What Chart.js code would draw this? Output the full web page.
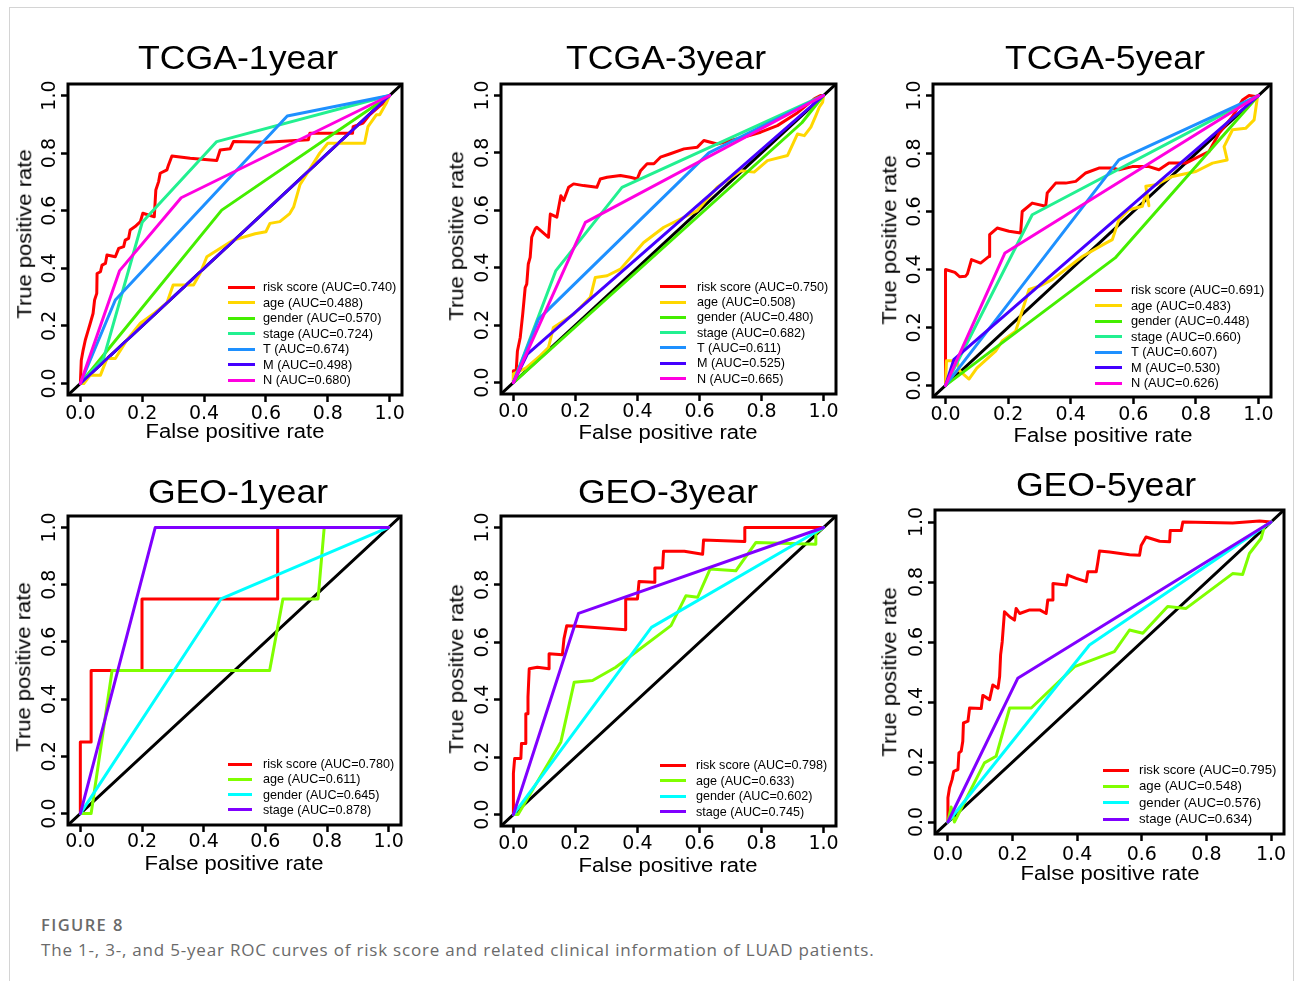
<!DOCTYPE html>
<html>
<head>
<meta charset="utf-8">
<title>ROC curves</title>
<script src="https://cdn.jsdelivr.net/npm/chart.js@4.4.0/dist/chart.umd.min.js"></script>
<style>
html, body { margin: 0; padding: 0; background: #fff; }
#page { position: relative; width: 1296px; height: 981px; overflow: hidden;
        font-family: "Liberation Sans", Arial, Helvetica, sans-serif; }
.frame { position: absolute; left: 9px; top: 7px; width: 1283px; height: 1000px;
         border: 1px solid #d4d4d4; border-bottom: none; }
canvas { position: absolute; }
.lbl { position: absolute; white-space: nowrap; line-height: 1; color: #000; }
.legline { position: absolute; height: 3px; }
.cap1 { position: absolute; left: 41px; top: 925px; transform: translateY(-50%);
        font-family: "Open Sans", sans-serif; font-size: 16.5px; font-weight: 600;
        letter-spacing: 1.4px; color: #6a6a6a; line-height: 1; }
.cap2 { position: absolute; left: 41px; top: 949px; transform: translateY(-50%);
        font-family: "Open Sans", sans-serif; font-size: 17px; color: #6a6a6a;
        letter-spacing: 0.8px; line-height: 1; white-space: nowrap; }
</style>
</head>
<body>
<div id="page">
  <div class="frame"></div>
  <div class="cap1">FIGURE 8</div>
  <div class="cap2">The 1-, 3-, and 5-year ROC curves of risk score and related clinical information of LUAD patients.</div>
</div>
<script>
// ---- data (false positive rate, true positive rate) ----
const tickValues = [0, 0.2, 0.4, 0.6, 0.8, 1.0];
const axisLimits = [-0.04, 1.04];

const tcgaNames = ["risk score", "age", "gender", "stage", "T", "M", "N"];
const geoNames = ["risk score", "age", "gender", "stage"];
const tcgaColors = ["#FF0000", "#FFD700", "#44EE00", "#22F090", "#1E90FF", "#4400FF", "#FF00E0"];
const geoColors = ["#FF0000", "#80FF00", "#00FFFF", "#8000FF"];

const tcga1Auc = ["0.740", "0.488", "0.570", "0.724", "0.674", "0.498", "0.680"];
const tcga3Auc = ["0.750", "0.508", "0.480", "0.682", "0.611", "0.525", "0.665"];
const tcga5Auc = ["0.691", "0.483", "0.448", "0.660", "0.607", "0.530", "0.626"];
const geo1Auc = ["0.780", "0.611", "0.645", "0.878"];
const geo3Auc = ["0.798", "0.633", "0.602", "0.745"];
const geo5Auc = ["0.795", "0.548", "0.576", "0.634"];

// TCGA 1 year
const tcga1Risk = [[0,0],[0.003,0.081],[0.009,0.116],[0.016,0.151],[0.024,0.18],[0.032,0.209],[0.041,0.243],[0.046,0.29],[0.053,0.313],[0.054,0.382],[0.065,0.388],[0.07,0.411],[0.081,0.417],[0.086,0.446],[0.113,0.44],[0.124,0.469],[0.14,0.475],[0.145,0.498],[0.156,0.504],[0.161,0.533],[0.177,0.545],[0.194,0.562],[0.202,0.591],[0.22,0.585],[0.239,0.579],[0.244,0.672],[0.253,0.701],[0.258,0.73],[0.28,0.742],[0.285,0.759],[0.296,0.79],[0.355,0.782],[0.441,0.774],[0.452,0.811],[0.484,0.815],[0.495,0.84],[0.602,0.838],[0.737,0.846],[0.742,0.869],[0.88,0.869],[0.882,0.892],[0.914,0.904],[0.935,0.933],[0.978,0.973],[1,1]];
const tcga1Age = [[0,0],[0.011,0],[0.032,0.029],[0.065,0.029],[0.086,0.087],[0.113,0.087],[0.15,0.15],[0.194,0.209],[0.24,0.245],[0.28,0.28],[0.3,0.342],[0.366,0.342],[0.387,0.382],[0.409,0.44],[0.495,0.498],[0.565,0.52],[0.6,0.527],[0.613,0.556],[0.645,0.562],[0.677,0.59],[0.69,0.614],[0.71,0.69],[0.774,0.8],[0.8,0.834],[0.919,0.834],[0.93,0.892],[0.957,0.933],[0.968,0.933],[0.989,0.973],[1,1]];
const tcga1Gender = [[0,0],[0.457,0.602],[1,1]];
const tcga1Stage = [[0,0],[0.075,0.087],[0.2,0.56],[0.441,0.84],[1,1]];
const tcga1T = [[0,0],[0.113,0.29],[0.669,0.929],[1,1]];
const tcga1M = [[0,0],[1,1]];
const tcga1N = [[0,0],[0.127,0.392],[0.326,0.645],[1,1]];

// TCGA 3 year
const tcga3Risk = [[0,0],[0,0.041],[0.009,0.041],[0.013,0.11],[0.022,0.157],[0.03,0.238],[0.038,0.331],[0.043,0.343],[0.048,0.413],[0.054,0.436],[0.059,0.506],[0.07,0.535],[0.075,0.541],[0.113,0.506],[0.119,0.587],[0.14,0.576],[0.153,0.651],[0.162,0.634],[0.178,0.68],[0.194,0.692],[0.226,0.686],[0.269,0.68],[0.28,0.709],[0.302,0.715],[0.345,0.721],[0.377,0.715],[0.399,0.709],[0.41,0.738],[0.431,0.762],[0.453,0.762],[0.474,0.785],[0.506,0.797],[0.55,0.814],[0.593,0.82],[0.614,0.843],[0.657,0.831],[0.7,0.843],[0.744,0.855],[0.797,0.872],[0.851,0.895],[0.916,0.94],[0.97,0.988],[0.99,1],[1,1]];
const tcga3Age = [[0,0],[0,0.03],[0.04,0.05],[0.086,0.093],[0.113,0.122],[0.129,0.192],[0.194,0.238],[0.248,0.297],[0.264,0.366],[0.302,0.372],[0.345,0.395],[0.42,0.488],[0.485,0.541],[0.593,0.599],[0.657,0.68],[0.733,0.738],[0.776,0.733],[0.819,0.773],[0.884,0.791],[0.916,0.866],[0.938,0.86],[0.959,0.89],[0.975,0.93],[0.986,0.959],[0.997,0.977],[1,1]];
const tcga3Gender = [[0,0],[0.93,0.905],[1,1]];
const tcga3Stage = [[0,0],[0.137,0.39],[0.35,0.68],[1,1]];
const tcga3T = [[0,0],[0.081,0.221],[0.63,0.8],[1,1]];
const tcga3M = [[0,0],[0.045,0.099],[1,1]];
const tcga3N = [[0,0],[0.232,0.558],[1,1]];

// TCGA 5 year
const tcga5Risk = [[0,0],[0,0.4],[0.03,0.39],[0.045,0.375],[0.064,0.377],[0.07,0.385],[0.083,0.434],[0.112,0.422],[0.139,0.445],[0.141,0.52],[0.165,0.543],[0.203,0.532],[0.24,0.526],[0.245,0.6],[0.277,0.629],[0.32,0.618],[0.325,0.664],[0.352,0.698],[0.384,0.698],[0.416,0.704],[0.448,0.733],[0.49,0.75],[0.533,0.75],[0.554,0.744],[0.597,0.755],[0.65,0.755],[0.682,0.744],[0.714,0.767],[0.768,0.767],[0.821,0.796],[0.842,0.807],[0.874,0.87],[0.917,0.928],[0.949,0.985],[0.97,1],[0.99,0.997],[1,1]];
const tcga5Age = [[0,0],[0.003,0.085],[0.037,0.085],[0.045,0.05],[0.075,0.022],[0.1,0.06],[0.16,0.118],[0.181,0.153],[0.224,0.187],[0.267,0.331],[0.299,0.342],[0.341,0.365],[0.437,0.445],[0.512,0.491],[0.533,0.503],[0.554,0.572],[0.586,0.606],[0.629,0.618],[0.64,0.664],[0.65,0.62],[0.64,0.687],[0.672,0.692],[0.725,0.721],[0.8,0.738],[0.853,0.767],[0.9,0.778],[0.89,0.824],[0.917,0.882],[0.959,0.887],[0.986,0.916],[0.997,0.997],[1,1]];
const tcga5Gender = [[0,0],[0.542,0.44],[1,1]];
const tcga5Stage = [[0,0],[0.277,0.589],[1,1]];
const tcga5T = [[0,0],[0.554,0.778],[1,1]];
const tcga5M = [[0,0],[0.027,0.09],[1,1]];
const tcga5N = [[0,0],[0.19,0.457],[1,1]];

// GEO 1 year
const geo1Risk = [[0,0],[0,0.25],[0.035,0.25],[0.035,0.5],[0.2,0.5],[0.2,0.75],[0.64,0.75],[0.64,1],[1,1]];
const geo1Age = [[0,0],[0.035,0],[0.103,0.5],[0.614,0.5],[0.657,0.75],[0.771,0.75],[0.791,1],[1,1]];
const geo1Gender = [[0,0],[0.456,0.75],[1,1]];
const geo1Stage = [[0,0],[0.243,1],[1,1]];

// GEO 3 year
const geo3Risk = [[0,0],[0,0.143],[0.004,0.195],[0.024,0.195],[0.026,0.247],[0.04,0.247],[0.04,0.351],[0.045,0.351],[0.047,0.409],[0.051,0.508],[0.077,0.513],[0.115,0.508],[0.115,0.56],[0.158,0.557],[0.163,0.612],[0.172,0.658],[0.206,0.656],[0.362,0.644],[0.362,0.751],[0.4,0.751],[0.405,0.812],[0.454,0.809],[0.456,0.859],[0.481,0.859],[0.484,0.917],[0.551,0.917],[0.61,0.907],[0.613,0.956],[0.744,0.951],[0.746,1],[0.97,1],[1,1]];
const geo3Age = [[0,0],[0.015,0],[0.153,0.253],[0.196,0.461],[0.255,0.467],[0.33,0.513],[0.508,0.658],[0.556,0.762],[0.594,0.757],[0.634,0.855],[0.717,0.849],[0.782,0.948],[0.975,0.942],[0.975,0.98],[1,1]];
const geo3Gender = [[0,0],[0.445,0.652],[1,1]];
const geo3Stage = [[0,0],[0.21,0.701],[1,1]];

// GEO 5 year
const geo5Risk = [[0,0],[0,0.081],[0.005,0.114],[0.013,0.142],[0.018,0.169],[0.031,0.175],[0.034,0.23],[0.041,0.236],[0.046,0.269],[0.048,0.33],[0.062,0.336],[0.067,0.38],[0.103,0.378],[0.108,0.422],[0.129,0.408],[0.139,0.457],[0.155,0.446],[0.16,0.485],[0.163,0.557],[0.168,0.601],[0.175,0.701],[0.191,0.684],[0.206,0.673],[0.211,0.712],[0.222,0.695],[0.253,0.707],[0.284,0.707],[0.304,0.695],[0.309,0.74],[0.323,0.74],[0.325,0.795],[0.366,0.79],[0.371,0.823],[0.397,0.812],[0.428,0.801],[0.433,0.834],[0.459,0.834],[0.464,0.867],[0.469,0.903],[0.5,0.9],[0.562,0.891],[0.593,0.889],[0.598,0.922],[0.613,0.95],[0.655,0.936],[0.686,0.934],[0.688,0.972],[0.722,0.972],[0.727,1],[0.881,0.997],[0.964,1.003],[1,1]];
const geo5Age = [[0,0],[0.01,0.05],[0.02,0],[0.113,0.197],[0.149,0.219],[0.191,0.38],[0.258,0.38],[0.392,0.518],[0.515,0.568],[0.562,0.64],[0.603,0.629],[0.68,0.718],[0.737,0.712],[0.881,0.828],[0.912,0.825],[0.933,0.895],[0.969,0.945],[0.979,0.984],[1,1]];
const geo5Gender = [[0,0],[0.438,0.59],[1,1]];
const geo5Stage = [[0,0],[0.216,0.479],[1,1]];

// ---- layout of the six panels (pixel positions of fpr/tpr 0 and 1) ----
const panels = [
  { title: "TCGA-1year", names: tcgaNames, auc: tcga1Auc, colors: tcgaColors,
    curves: [tcga1Risk, tcga1Age, tcga1Gender, tcga1Stage, tcga1T, tcga1M, tcga1N],
    x0: 80.5, x1: 390, y0: 383.5, y1: 96, titleX: 238, titleY: 56.5, xTitleY: 432, yTitleX: 25, yTitleY: 234, tickGap: 19,
    leg: { x1: 228, x2: 255, tx: 263, y: 287, dy: 15.5, fs: 12.8 } },
  { title: "TCGA-3year", names: tcgaNames, auc: tcga3Auc, colors: tcgaColors,
    curves: [tcga3Risk, tcga3Age, tcga3Gender, tcga3Stage, tcga3T, tcga3M, tcga3N],
    x0: 513, x1: 823, y0: 382, y1: 95, titleX: 665.5, titleY: 56.5, xTitleY: 433.3, yTitleX: 457, yTitleY: 236, tickGap: 18,
    leg: { x1: 660, x2: 686, tx: 697, y: 286.7, dy: 15.3, fs: 12.6 } },
  { title: "TCGA-5year", names: tcgaNames, auc: tcga5Auc, colors: tcgaColors,
    curves: [tcga5Risk, tcga5Age, tcga5Gender, tcga5Stage, tcga5T, tcga5M, tcga5N],
    x0: 946, x1: 1259, y0: 386, y1: 96, titleX: 1105, titleY: 57, xTitleY: 435.5, yTitleX: 890, yTitleY: 240, tickGap: 18.5,
    leg: { x1: 1095, x2: 1122, tx: 1131, y: 290, dy: 15.55, fs: 12.8 } },
  { title: "GEO-1year", names: geoNames, auc: geo1Auc, colors: geoColors,
    curves: [geo1Risk, geo1Age, geo1Gender, geo1Stage],
    x0: 80, x1: 388, y0: 813, y1: 527, titleX: 237.5, titleY: 491, xTitleY: 864, yTitleX: 24, yTitleY: 667, tickGap: 17,
    leg: { x1: 228, x2: 252, tx: 263, y: 764, dy: 15.3, fs: 12.6 } },
  { title: "GEO-3year", names: geoNames, auc: geo3Auc, colors: geoColors,
    curves: [geo3Risk, geo3Age, geo3Gender, geo3Stage],
    x0: 513, x1: 823, y0: 814, y1: 527, titleX: 667.5, titleY: 491, xTitleY: 865.5, yTitleX: 457, yTitleY: 669, tickGap: 18,
    leg: { x1: 660, x2: 686, tx: 696, y: 765, dy: 15.55, fs: 12.6 } },
  { title: "GEO-5year", names: geoNames, auc: geo5Auc, colors: geoColors,
    curves: [geo5Risk, geo5Age, geo5Gender, geo5Stage],
    x0: 948, x1: 1271, y0: 822, y1: 522, titleX: 1106, titleY: 483.5, xTitleY: 874, yTitleX: 890, yTitleY: 671.5, tickGap: 21.5,
    leg: { x1: 1103, x2: 1129, tx: 1139, y: 770, dy: 16.4, fs: 13.2 } }
];

const tickFont = { family: "DejaVu Sans", size: 19, lineHeight: 1.2 };
const page = document.getElementById("page");

// R-style box around the plot region
const boxFrame = {
  id: "boxFrame",
  afterDatasetsDraw(chart) {
    const { ctx, chartArea: a } = chart;
    ctx.save();
    ctx.lineWidth = 3;
    ctx.strokeStyle = "#000";
    ctx.strokeRect(a.left, a.top, a.right - a.left, a.bottom - a.top);
    ctx.restore();
  }
};

function addText(text, x, y, css, transform) {
  const el = document.createElement("div");
  el.className = "lbl";
  el.textContent = text;
  el.style.left = x + "px";
  el.style.top = y + "px";
  Object.assign(el.style, css);
  el.style.transform = transform;
  page.appendChild(el);
  return el;
}

function measure(text, font) {
  const c = document.createElement("canvas").getContext("2d");
  c.font = font.size + "px '" + font.family + "'";
  return c.measureText(text).width;
}

function makePanel(p) {
  const u = p.x1 - p.x0, v = p.y0 - p.y1;
  const areaL = p.x0 + axisLimits[0] * u, areaT = p.y1 - (axisLimits[1] - 1) * v;
  const areaW = (axisLimits[1] - axisLimits[0]) * u, areaH = (axisLimits[1] - axisLimits[0]) * v;
  const padL = 40, padT = 10, padR = 10, padB = 40;

  const canvas = document.createElement("canvas");
  const cw = Math.round(areaW + padL + padR), ch = Math.round(areaH + padT + padB);
  canvas.width = cw; canvas.height = ch;
  canvas.style.width = cw + "px"; canvas.style.height = ch + "px";
  canvas.style.left = Math.round(areaL - padL) + "px";
  canvas.style.top = Math.round(areaT - padT) + "px";
  page.appendChild(canvas);

  const n = p.curves.length;
  const datasets = [{
    label: "reference",
    data: axisLimits.map(d => ({ x: d, y: d })),
    borderColor: "#000",
    borderWidth: 3,
    order: n + 1
  }];
  p.curves.forEach((c, i) => {
    datasets.push({
      label: p.names[i] + " (AUC=" + p.auc[i] + ")",
      data: c.map(pt => ({ x: pt[0], y: pt[1] })),
      borderColor: p.colors[i],
      borderWidth: 3,
      order: n - i
    });
  });

  const halfWidest = measure("0.0", tickFont) / 2;
  const tickOpts = { color: "#000", font: tickFont, autoSkip: false, callback: val => val.toFixed(1) };
  const gridOpts = { display: true, drawOnChartArea: false, drawTicks: true, tickLength: 7, color: "#000", tickColor: "#000", tickWidth: 2.5 };

  new Chart(canvas.getContext("2d"), {
    type: "line",
    data: { datasets: datasets },
    options: {
      responsive: false,
      animation: false,
      events: [],
      layout: { padding: { left: 0, top: padT, right: padR, bottom: 0 } },
      elements: {
        point: { radius: 0 },
        line: { tension: 0, borderCapStyle: "round", borderJoinStyle: "round" }
      },
      plugins: { legend: { display: false }, tooltip: { enabled: false }, title: { display: false } },
      scales: {
        x: {
          type: "linear", min: axisLimits[0], max: axisLimits[1],
          afterBuildTicks: s => { s.ticks = tickValues.map(t => ({ value: t })); },
          afterFit: s => { s.height = padB; },
          grid: gridOpts,
          border: { display: false },
          ticks: Object.assign({}, tickOpts, { maxRotation: 0, minRotation: 0, padding: p.tickGap - 7 - 11.4 })
        },
        y: {
          type: "linear", min: axisLimits[0], max: axisLimits[1],
          afterBuildTicks: s => { s.ticks = tickValues.map(t => ({ value: t })); },
          afterFit: s => { s.width = padL; },
          grid: gridOpts,
          border: { display: false },
          ticks: Object.assign({}, tickOpts, { minRotation: 90, maxRotation: 90, crossAlign: "center", padding: 18 - 7 - halfWidest })
        }
      }
    },
    plugins: [boxFrame]
  });

  // titles
  addText(p.title, p.titleX, p.titleY, { fontSize: "33px" }, "translate(-50%,-50%) scaleX(1.08)");
  addText("False positive rate", (p.x0 + p.x1) / 2, p.xTitleY, { fontSize: "19.5px" }, "translate(-50%,-50%) scaleX(1.13)");
  addText("True positive rate", p.yTitleX, p.yTitleY, { fontSize: "19.5px" }, "translate(-50%,-50%) rotate(-90deg) scaleX(1.13)");

  // legend
  const lg = p.leg;
  datasets.slice(1).forEach((ds, i) => {
    const y = lg.y + i * lg.dy;
    const line = document.createElement("div");
    line.className = "legline";
    line.style.left = lg.x1 + "px";
    line.style.width = (lg.x2 - lg.x1) + "px";
    line.style.top = (y - 1.5) + "px";
    line.style.background = ds.borderColor;
    page.appendChild(line);
    addText(ds.label, lg.tx, y, { fontSize: lg.fs + "px" }, "translateY(-50%)");
  });
}

panels.forEach(makePanel);
</script>
</body>
</html>
